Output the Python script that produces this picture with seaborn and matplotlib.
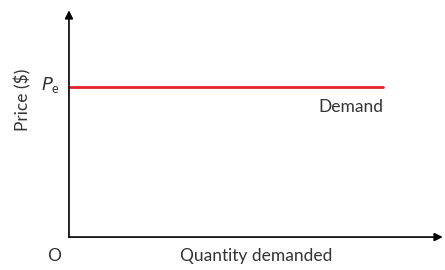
import matplotlib
matplotlib.use("Agg")
import matplotlib.pyplot as plt
import seaborn as sns
import pandas as pd

# data
quantity = [0, 8.4]
price = [6.6, 6.6]
curve_label = "Demand"

sns.set_theme(style="white")
plt.rcParams['font.family'] = ['Lato', 'DejaVu Sans']

df = pd.DataFrame({"Quantity": quantity, "Price": price})

fig = plt.figure(figsize=(4.45, 2.7), dpi=100)
ax = fig.add_axes([0.155, 0.122, 0.84, 0.84])

sns.lineplot(data=df, x="Quantity", y="Price", color="#e8202a", linewidth=2, ax=ax)

ax.set_xlim(0, 10)
ax.set_ylim(0, 10)
for s in ax.spines.values():
    s.set_visible(False)
ax.set_xticks([])
ax.set_yticks([])
ax.set_xlabel("")
ax.set_ylabel("")

# axes with arrows
arrow = dict(arrowstyle="-|>", color="black", lw=1.2, mutation_scale=12, shrinkA=0, shrinkB=0)
ax.annotate("", xy=(1.0, 0), xytext=(0, 0), xycoords="axes fraction", arrowprops=arrow, annotation_clip=False)
ax.annotate("", xy=(0, 1.0), xytext=(0, 0), xycoords="axes fraction", arrowprops=arrow, annotation_clip=False)

txt = "#333333"
ax.text(8.4, price[0] - 0.5, curve_label, ha="right", va="top", fontsize=12.5, color=txt)
ax.text(-0.25, price[0] + 0.1, "$P_{\\mathregular{e}}$", ha="right", va="center", fontsize=13, color=txt)
ax.text(-0.2, -0.85, "O", ha="right", va="center", fontsize=12.5, color=txt)
ax.text(5.0, -0.85, "Quantity demanded", ha="center", va="center", fontsize=12.5, color=txt)
fig.text(23 / 445, 1 - 100 / 270, "Price ($)", rotation=90, ha="center", va="center", fontsize=12.5, color=txt)

fig.savefig("out.png", dpi=100)
